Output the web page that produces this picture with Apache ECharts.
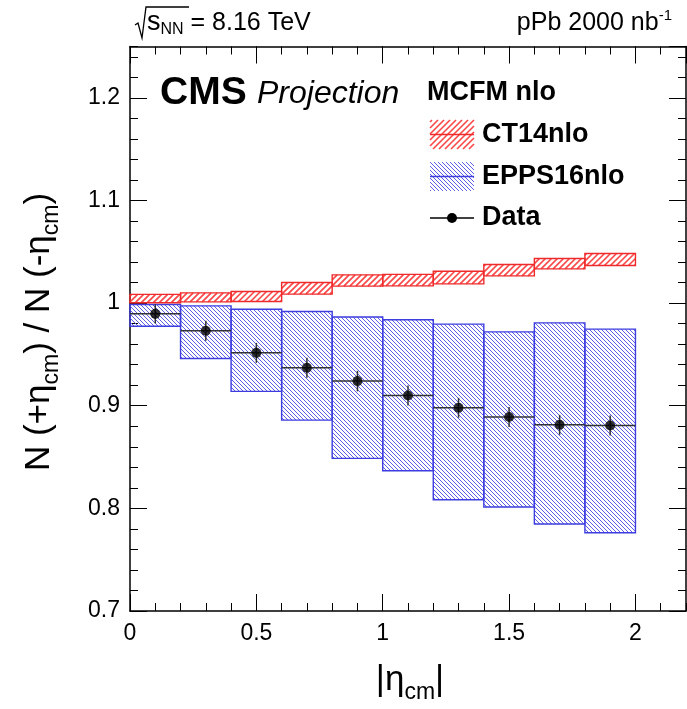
<!DOCTYPE html>
<html><head><meta charset="utf-8">
<script src="https://cdn.jsdelivr.net/npm/echarts@6/dist/echarts.min.js"></script>
<style>html,body{margin:0;padding:0;background:#fff}#c{width:687px;height:709px}</style>
</head><body><div id="c"></div>
<script>
// ---- data ----
const binLo = [0.0, 0.2, 0.4, 0.6, 0.8, 1.0, 1.2, 1.4, 1.6, 1.8];
const binHi = [0.2, 0.4, 0.6, 0.8, 1.0, 1.2, 1.4, 1.6, 1.8, 2.0];
const etaCenter = [0.1, 0.3, 0.5, 0.7, 0.9, 1.1, 1.3, 1.5, 1.7, 1.9];
const ct14Lo = [1.0004, 1.0012, 1.0016, 1.0087, 1.0165, 1.0168, 1.0187, 1.0265, 1.0333, 1.0366];
const ct14Hi = [1.0085, 1.0100, 1.0113, 1.0200, 1.0275, 1.0280, 1.0310, 1.0376, 1.0434, 1.0483];
const eppsLo = [0.9775, 0.9460, 0.9140, 0.8860, 0.8487, 0.8366, 0.8084, 0.8013, 0.7847, 0.7763];
const eppsHi = [0.9986, 0.9973, 0.9940, 0.9918, 0.9865, 0.9837, 0.9795, 0.9720, 0.9807, 0.9746];
const dataVal = [0.9895, 0.9730, 0.9515, 0.9370, 0.9240, 0.9100, 0.8980, 0.8890, 0.8814, 0.8808];
const dataErr = [0.0093, 0.0097, 0.0097, 0.0097, 0.0100, 0.0097, 0.0097, 0.0097, 0.0097, 0.0097];
const xTicksMajor = 0.5, xTicksMinor = 0.1, yTicksMajor = 0.1, yTicksMinor = 0.02;

const FONT = '"Liberation Sans", Arial, Helvetica, sans-serif';
const RED = '#ee2a2a', BLUE = '#3d3de0';
const RED_HATCH = 'rgb(250,70,70)', BLUE_HATCH = 'rgb(95,95,230)';

// 45-degree hatch segments clipped to a rectangle; dir>0 => '/', dir<0 => '\'
function hatchSegments(x0, y0, x1, y1, s, dir) {
  const segs = [];
  if (dir > 0) {
    for (let c = Math.ceil((x0 + y0) / s) * s; c <= x1 + y1; c += s) {
      const xa = Math.max(x0, c - y1), xb = Math.min(x1, c - y0);
      if (xb > xa) segs.push([xa, c - xa, xb, c - xb]);
    }
  } else {
    for (let c = Math.ceil((x0 - y1) / s) * s; c <= x1 - y0; c += s) {
      const xa = Math.max(x0, c + y0), xb = Math.min(x1, c + y1);
      if (xb > xa) segs.push([xa, xa - c, xb, xb - c]);
    }
  }
  return segs;
}
function segPath(segs) {
  return segs.map(g => 'M' + g[0].toFixed(2) + ' ' + g[1].toFixed(2) + 'L' + g[2].toFixed(2) + ' ' + g[3].toFixed(2)).join('');
}

const chart = echarts.init(document.getElementById('c'), null, { renderer: 'canvas' });

function boxRender(hColor, hWidth, s, dir, stroke) {
  return function (params, api) {
    const p0 = api.coord([api.value(0), api.value(3)]);
    const p1 = api.coord([api.value(1), api.value(2)]);
    const segs = hatchSegments(p0[0], p0[1], p1[0], p1[1], s, dir);
    const children = [];
    if (segs.length) {
      children.push({ type: 'path', shape: { pathData: segPath(segs) }, style: { stroke: hColor, lineWidth: hWidth, fill: null } });
    }
    children.push({
      type: 'rect',
      shape: { x: p0[0], y: p0[1], width: p1[0] - p0[0], height: p1[1] - p0[1] },
      style: { fill: null, stroke: stroke, lineWidth: 1.4 }
    });
    return { type: 'group', children: children };
  };
}

function xAxisDef(pos, interval, len, main) {
  return {
    type: 'value', min: 0, max: 2.2, interval: interval, position: pos,
    axisLine: { show: main, onZero: false, lineStyle: { color: '#000', width: 1.5 } },
    axisTick: { show: true, inside: true, length: len, lineStyle: { color: '#000', width: 1 } },
    axisLabel: { show: main && pos === 'bottom', fontSize: 23, color: '#000', margin: 11, fontFamily: FONT, showMaxLabel: false },
    splitLine: { show: false }
  };
}
function yAxisDef(pos, interval, len, main) {
  return {
    type: 'value', min: 0.7, max: 1.25, interval: interval, position: pos,
    axisLine: { show: main, onZero: false, lineStyle: { color: '#000', width: 1.5 } },
    axisTick: { show: true, inside: true, length: len, lineStyle: { color: '#000', width: 1 } },
    axisLabel: { show: main && pos === 'left', fontSize: 23, color: '#000', margin: 10, fontFamily: FONT, showMaxLabel: false },
    splitLine: { show: false }
  };
}

const subPad = { fontSize: 23, fontFamily: FONT, color: '#000', padding: [25, 0, 0, 0] };

function legendHatch(x0, y0, w, h, s, dir, color, lw) {
  return hatchSegments(x0, y0, x0 + w, y0 + h, s, dir).map(g => ({
    type: 'line', shape: { x1: g[0], y1: g[1], x2: g[2], y2: g[3] }, style: { stroke: color, lineWidth: lw }
  }));
}

chart.setOption({
  animation: false,
  backgroundColor: '#fff',
  grid: { left: 130, right: 1, top: 46.5, bottom: 98 },
  xAxis: [
    xAxisDef('bottom', xTicksMajor, 17, true),
    xAxisDef('bottom', xTicksMinor, 8, false),
    xAxisDef('top', xTicksMajor, 17, true),
    xAxisDef('top', xTicksMinor, 8, false)
  ],
  yAxis: [
    yAxisDef('left', yTicksMajor, 17, true),
    yAxisDef('left', yTicksMinor, 8, false),
    yAxisDef('right', yTicksMajor, 17, true),
    yAxisDef('right', yTicksMinor, 8, false)
  ],
  series: [
    {
      name: 'EPPS16nlo', type: 'custom', renderItem: boxRender(BLUE_HATCH, 1, 4, -1, BLUE),
      encode: { x: [0, 1], y: [2, 3] },
      data: binLo.map((x, i) => [x, binHi[i], eppsLo[i], eppsHi[i]]), z: 2
    },
    {
      name: 'CT14nlo', type: 'custom', renderItem: boxRender(RED_HATCH, 1.6, 6, 1, RED),
      encode: { x: [0, 1], y: [2, 3] },
      data: binLo.map((x, i) => [x, binHi[i], ct14Lo[i], ct14Hi[i]]), z: 3
    },
    {
      name: 'DataErr', type: 'custom',
      encode: { x: 0, y: 1 },
      renderItem: function (params, api) {
        const l = api.coord([api.value(3), api.value(1)]);
        const r = api.coord([api.value(4), api.value(1)]);
        const t = api.coord([api.value(0), api.value(1) + api.value(2)]);
        const b = api.coord([api.value(0), api.value(1) - api.value(2)]);
        const st = { stroke: '#333', lineWidth: 1.5 };
        return {
          type: 'group', children: [
            { type: 'line', shape: { x1: l[0], y1: l[1], x2: r[0], y2: r[1] }, style: st },
            { type: 'line', shape: { x1: t[0], y1: t[1], x2: b[0], y2: b[1] }, style: st }
          ]
        };
      },
      data: etaCenter.map((x, i) => [x, dataVal[i], dataErr[i], binLo[i], binHi[i]]), z: 4
    },
    {
      name: 'Data', type: 'scatter', symbol: 'circle', symbolSize: 10,
      itemStyle: { color: '#000' },
      data: etaCenter.map((x, i) => [x, dataVal[i]]), z: 5
    }
  ],
  graphic: [
    // sqrt sign
    { type: 'polyline', shape: { points: [[135, 25], [138, 23], [142, 38], [146, 7], [189, 7]] },
      style: { stroke: '#000', lineWidth: 1.3, fill: null } },
    { type: 'text', x: 147, y: 23, style: {
        text: '{s|s}{sub|NN}{t| = 8.16 TeV}', verticalAlign: 'middle',
        rich: {
          s: { fontSize: 27, fontFamily: FONT, color: '#000' },
          sub: { fontSize: 16, fontFamily: FONT, color: '#000', padding: [14, 0, 0, 0] },
          t: { fontSize: 25, fontFamily: FONT, color: '#000' }
        } } },
    { type: 'text', x: 672, y: 23, style: {
        text: '{t|pPb 2000 nb}{sup|-1}', align: 'right', verticalAlign: 'middle',
        rich: {
          t: { fontSize: 25, fontFamily: FONT, color: '#000' },
          sup: { fontSize: 15, fontFamily: FONT, color: '#000', padding: [0, 0, 14, 0] }
        } } },
    { type: 'text', x: 160, y: 93, style: { text: 'CMS', font: 'bold 39px ' + FONT, fill: '#000', verticalAlign: 'middle' } },
    { type: 'text', x: 257, y: 94, style: { text: 'Projection', font: 'italic 32px ' + FONT, fill: '#000', verticalAlign: 'middle' } },
    { type: 'text', x: 427, y: 93, style: { text: 'MCFM nlo', font: 'bold 27px ' + FONT, fill: '#000', verticalAlign: 'middle' } },
    // legend: CT14nlo
    ...legendHatch(430, 120, 44, 29, 6, 1, RED_HATCH, 1.6),
    { type: 'line', shape: { x1: 430, y1: 134.5, x2: 474, y2: 134.5 }, style: { stroke: RED, lineWidth: 1.6 } },
    { type: 'text', x: 482, y: 135, style: { text: 'CT14nlo', font: 'bold 27px ' + FONT, fill: '#000', verticalAlign: 'middle' } },
    // legend: EPPS16nlo
    ...legendHatch(430, 162, 44, 29, 4, -1, BLUE_HATCH, 1),
    { type: 'line', shape: { x1: 430, y1: 176.5, x2: 474, y2: 176.5 }, style: { stroke: BLUE, lineWidth: 1.6 } },
    { type: 'text', x: 482, y: 177, style: { text: 'EPPS16nlo', font: 'bold 27px ' + FONT, fill: '#000', verticalAlign: 'middle' } },
    // legend: Data
    { type: 'line', shape: { x1: 430, y1: 218, x2: 474, y2: 218 }, style: { stroke: '#000', lineWidth: 1.5 } },
    { type: 'circle', shape: { cx: 452, cy: 218, r: 5 }, style: { fill: '#000' } },
    { type: 'text', x: 482, y: 218, style: { text: 'Data', font: 'bold 27px ' + FONT, fill: '#000', verticalAlign: 'middle' } },
    // axis titles
    { type: 'text', x: 410, y: 680, style: {
        text: '{t||η}{sub|cm}{t||}', align: 'center', verticalAlign: 'middle',
        rich: { t: { fontSize: 35, fontFamily: FONT, color: '#000' }, sub: subPad } } },
    { type: 'text', x: 39, y: 332, rotation: Math.PI / 2, style: {
        text: '{t|N (+η}{sub|cm}{t|) / N (-η}{sub|cm}{t|)}', align: 'center', verticalAlign: 'middle',
        rich: { t: { fontSize: 35, fontFamily: FONT, color: '#000' }, sub: subPad } } }
  ]
});
</script></body></html>
